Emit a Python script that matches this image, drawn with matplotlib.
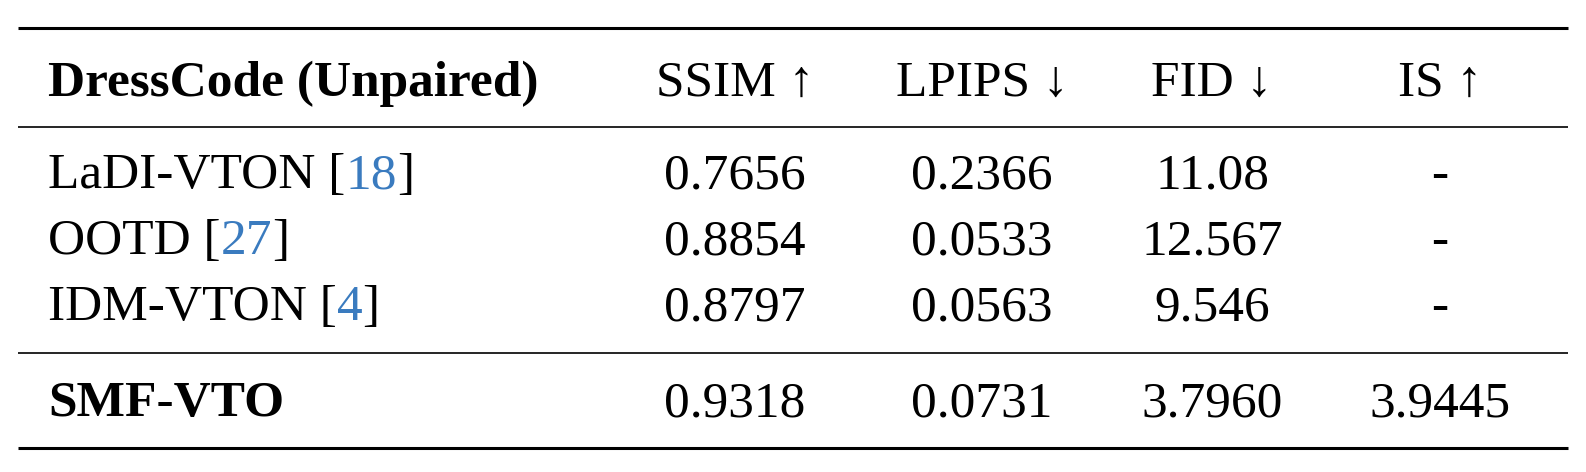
import matplotlib.pyplot as plt

methods = ['LaDI-VTON', 'OOTD', 'IDM-VTON']
cites = ['18', '27', '4']
ssim = ['0.7656', '0.8854', '0.8797']
lpips = ['0.2366', '0.0533', '0.0563']
fid = ['11.08', '12.567', '9.546']
is_score = ['-', '-', '-']
ours = ['SMF-VTO', '0.9318', '0.0731', '3.7960', '3.9445']
headers = ['DressCode (Unpaired)', 'SSIM ↑', 'LPIPS ↓', 'FID ↓', 'IS ↑']

plt.rcParams['font.family'] = ['Liberation Serif', 'DejaVu Serif']
fig = plt.figure(figsize=(15.86, 4.72), dpi=100)
ax = fig.add_axes([0, 0, 1, 1])
ax.set_xlim(0, 1586)
ax.set_ylim(472, 0)
ax.axis('off')

fs = 37
cite_color = '#3a7bbf'
col_x = [48, 735, 982, 1212, 1440]

# rules
for y, lw in [(28, 2.2), (127, 1.2), (353, 1.2), (448, 2.2)]:
    ax.plot([18, 1568], [y, y], color='black', lw=lw, solid_capstyle='butt', clip_on=False)

ax.text(col_x[0], 84, headers[0], fontsize=fs, fontweight='bold', va='center', ha='left')
for x, h in zip(col_x[1:], headers[1:]):
    ax.text(x, 84, h, fontsize=fs, va='center', ha='center',
            family=['Liberation Serif', 'DejaVu Sans'])

fig.canvas.draw()
r = fig.canvas.get_renderer()
inv = ax.transData.inverted()


def draw_cited(x, y, name, cite):
    # name + "[" in black, number in blue, "]" in black
    x0 = x
    for part, c in [(name + ' [', 'black'), (cite, cite_color), (']', 'black')]:
        t = ax.text(x0, y, part, fontsize=fs, va='center', ha='left', color=c)
        bb = t.get_window_extent(renderer=r)
        x0 = inv.transform((bb.x1, bb.y0))[0]


row_y = [176, 242, 308]
for i, y in enumerate(row_y):
    draw_cited(col_x[0], y, methods[i], cites[i])
    for x, v in zip(col_x[1:], [ssim[i], lpips[i], fid[i], is_score[i]]):
        ax.text(x, y, v, fontsize=fs, va='center', ha='center')

ax.text(col_x[0], 404, ours[0], fontsize=fs, fontweight='bold', va='center', ha='left')
for x, v in zip(col_x[1:], ours[1:]):
    ax.text(x, 404, v, fontsize=fs, va='center', ha='center')

fig.savefig('out.png', dpi=100)
